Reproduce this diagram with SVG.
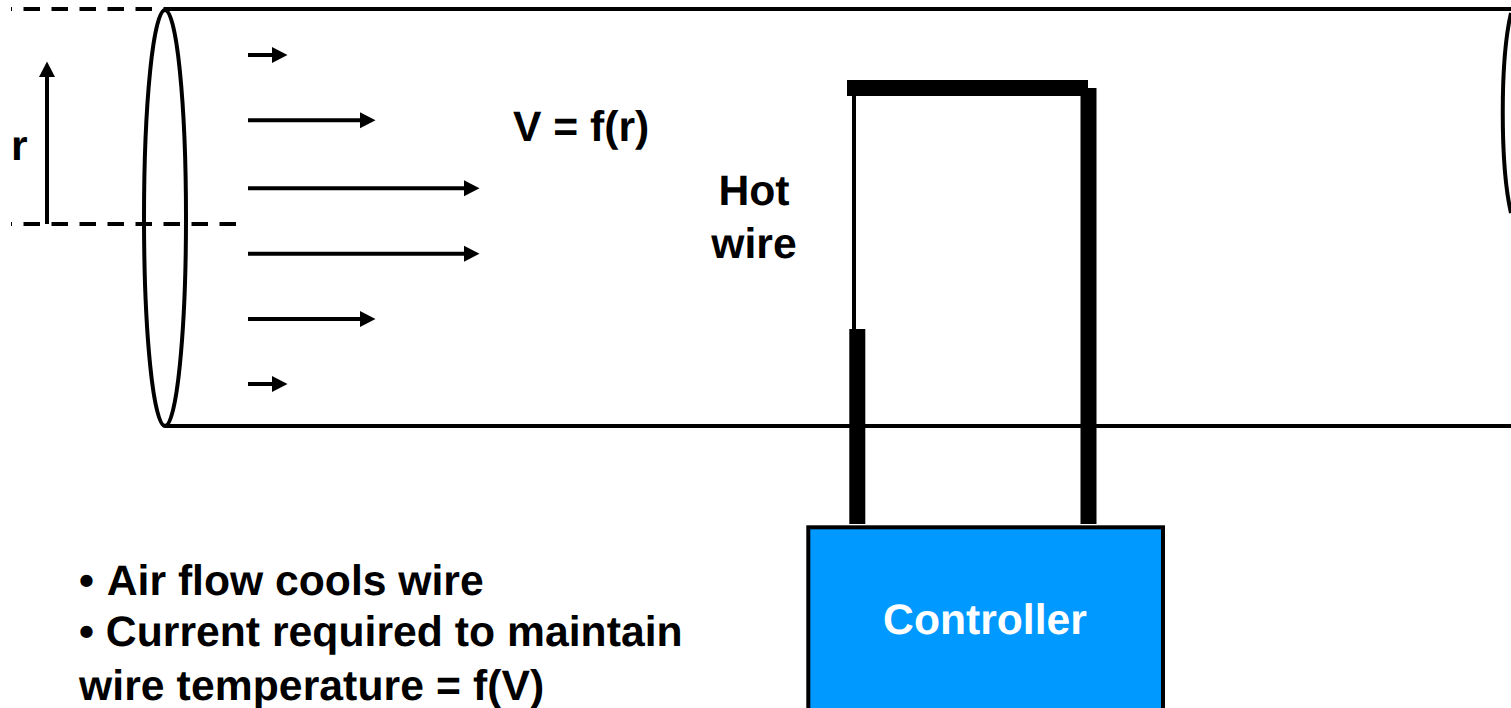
<svg xmlns="http://www.w3.org/2000/svg" width="1511" height="708" viewBox="0 0 1511 708">
<defs><marker id="a" markerUnits="userSpaceOnUse" markerWidth="16" markerHeight="18" refX="5" refY="9" orient="auto"><path d="M0 1L15.500 9L0 17Z" fill="#000"/></marker></defs>
<style>
.t{font-family:"Liberation Sans",Arial,sans-serif;font-weight:700;font-size:42.67px;fill:#000;font-kerning:none;text-rendering:geometricPrecision}
.l{stroke:#000;fill:none;stroke-width:4}
.f{stroke:#000;fill:none;stroke-width:4;marker-end:url(#a)}
.d{stroke:#000;fill:none;stroke-width:4;stroke-dasharray:16.5 11.5;stroke-dashoffset:15.5}
</style>
<rect width="1511" height="708" fill="#fff"/>
<g id="pipe">
<path class="l" d="M165 9H1511M165 426H1511"/>
<ellipse class="l" cx="165" cy="218" rx="21" ry="208"/>
<path class="l" d="M1511 13C1500 60 1500 165 1511 213"/>
</g>
<g id="connectors">
<path class="d" d="M11 9H237M11 224H237"/>
<path class="f" d="M47 224V72"/>
<path class="f" d="M248 55H277"/>
<path class="f" d="M248 120.300H365"/>
<path class="f" d="M248 188.300H469"/>
<path class="f" d="M248 253.700H469"/>
<path class="f" d="M248 319H365"/>
<path class="f" d="M248 384H277"/>
</g>
<g id="probe">
<rect x="847" y="80" width="241" height="16"/>
<rect x="1080.500" y="88" width="16" height="436"/>
<rect x="849.300" y="329" width="16" height="195"/>
<rect x="852" y="96" width="4" height="233"/>
</g>
<g id="controller">
<rect x="808.300" y="527.300" width="354.700" height="190" fill="#0099ff" stroke="#000" stroke-width="4"/>
<text class="t" x="985" y="634" text-anchor="middle" style="fill:#fff">Controller</text>
</g>
<g id="labels">
<text class="t" x="11" y="159.500">r</text>
<text class="t" x="513" y="140.500">V = f(r)</text>
<text class="t" x="754" y="205" text-anchor="middle">Hot</text>
<text class="t" x="754" y="257.500" text-anchor="middle">wire</text>
<text class="t" x="79" y="595">• <tspan dx="1">Air flow cools wire</tspan></text>
<text class="t" x="79" y="646" style="letter-spacing:.03px">• Current required to maintain</text>
<text class="t" x="79" y="699.500" style="letter-spacing:.08px">wire temperature = f(V)</text>
</g>
</svg>
